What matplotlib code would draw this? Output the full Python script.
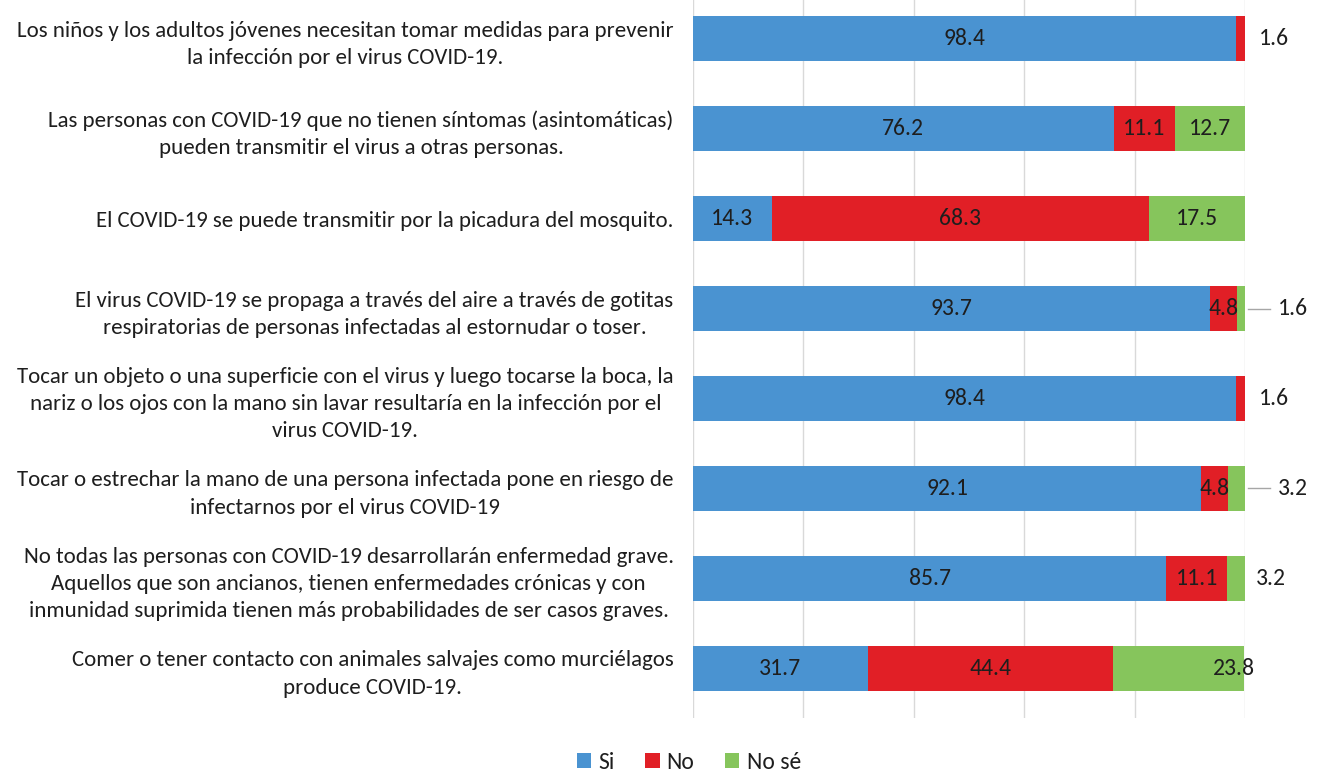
import matplotlib
matplotlib.use("Agg")
import matplotlib.pyplot as plt
from matplotlib.patches import Patch

plt.rcParams["font.family"] = ["Carlito", "Liberation Sans", "DejaVu Sans"]

# --- data -----------------------------------------------------------------
statements = [
    "Los niños y los adultos jóvenes necesitan tomar medidas para prevenir\nla infección por el virus COVID-19.",
    "Las personas con COVID-19 que no tienen síntomas (asintomáticas)\npueden transmitir el virus a otras personas.",
    "El COVID-19 se puede transmitir por la picadura del mosquito.",
    "El virus COVID-19 se propaga a través del aire a través de gotitas\nrespiratorias de personas infectadas al estornudar o toser.",
    "Tocar un objeto o una superficie con el virus y luego tocarse la boca, la\nnariz o los ojos con la mano sin lavar resultaría en la infección por el\nvirus COVID-19.",
    "Tocar o estrechar la mano de una persona infectada pone en riesgo de\ninfectarnos por el virus COVID-19",
    "No todas las personas con COVID-19 desarrollarán enfermedad grave.\nAquellos que son ancianos, tienen enfermedades crónicas y con\ninmunidad suprimida tienen más probabilidades de ser casos graves.",
    "Comer o tener contacto con animales salvajes como murciélagos\nproduce COVID-19.",
]
si = [98.4, 76.2, 14.3, 93.7, 98.4, 92.1, 85.7, 31.7]
no = [1.6, 11.1, 68.3, 4.8, 1.6, 4.8, 11.1, 44.4]
no_se = [0.0, 12.7, 17.5, 1.6, 0.0, 3.2, 3.2, 23.8]
series_names = ["Si", "No", "No sé"]

BLUE = "#4a93d1"
RED = "#e11f26"
GREEN = "#86c55c"
TXT = "#1e1e1e"

fig = plt.figure(figsize=(13.25, 7.76), dpi=100)
ax = fig.add_axes([0.523, 0.075, 0.4166, 0.925])

ypos = list(range(len(statements)))
h = 0.5
ax.barh(ypos, si, height=h, color=BLUE, zorder=2)
ax.barh(ypos, no, left=si, height=h, color=RED, zorder=2)
left2 = [a + b for a, b in zip(si, no)]
ax.barh(ypos, no_se, left=left2, height=h, color=GREEN, zorder=2)

fs = 17
# segment labels
for i in ypos:
    ax.text(si[i] / 2, i, f"{si[i]:.1f}", ha="center", va="center",
            fontsize=fs, color=TXT, zorder=3)
    if no[i] < 3:
        ax.text(102.5, i, f"{no[i]:.1f}", ha="left", va="center",
                fontsize=fs, color=TXT, zorder=3)
    else:
        ax.text(si[i] + no[i] / 2, i, f"{no[i]:.1f}", ha="center",
                va="center", fontsize=fs, color=TXT, zorder=3)
    if no_se[i] <= 0:
        continue
    if no_se[i] < 5:
        if i in (3, 5):
            # leader line for labels pushed outside the bar
            ax.plot([100.6, 104.5], [i, i], color="#a6a6a6", lw=1,
                    clip_on=False, zorder=3)
            ax.text(106, i, f"{no_se[i]:.1f}", ha="left", va="center",
                    fontsize=fs, color=TXT, zorder=3)
        else:
            ax.text(102, i, f"{no_se[i]:.1f}", ha="left", va="center",
                    fontsize=fs, color=TXT, zorder=3)
    elif i == 7:
        ax.text(98, i, f"{no_se[i]:.1f}", ha="center", va="center",
                fontsize=fs, color=TXT, zorder=3)
    else:
        ax.text(left2[i] + no_se[i] / 2, i, f"{no_se[i]:.1f}", ha="center",
                va="center", fontsize=fs, color=TXT, zorder=3)

ax.set_xlim(0, 100)
ax.set_ylim(7.55, -0.43)
ax.set_xticks([0, 20, 40, 60, 80, 100])
ax.set_xticklabels([])
ax.tick_params(axis="x", length=0)
ax.grid(axis="x", color="#d9d9d9", lw=1, zorder=0)
ax.set_yticks(ypos)
ax.set_yticklabels(statements, fontsize=16.5, color=TXT, linespacing=1.45,
                   multialignment="center")
ax.tick_params(axis="y", length=0, pad=14)
for s in ax.spines.values():
    s.set_visible(False)

handles = [Patch(facecolor=c, label=n) for c, n in zip([BLUE, RED, GREEN], series_names)]
fig.legend(handles=handles, loc="center", bbox_to_anchor=(0.52, 0.018), ncol=3,
           frameon=False, fontsize=17, handlelength=0.6, handleheight=0.6,
           handletextpad=0.3, columnspacing=1.3, labelcolor=TXT)

fig.savefig("out.png", dpi=100)
